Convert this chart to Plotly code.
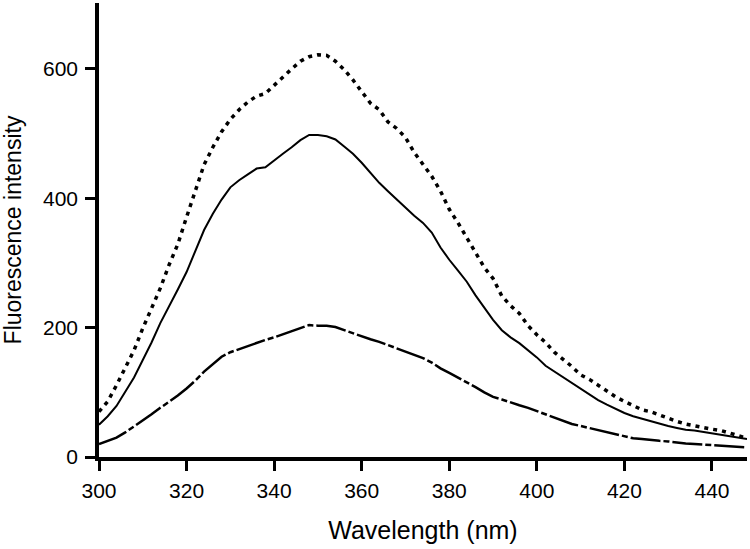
import plotly.graph_objects as go

# Wavelength grid (nm)
wavelength = [300, 302, 304, 306, 308, 310, 312, 314, 316, 318, 320, 322, 324, 326, 328,
              330, 332, 334, 336, 338, 340, 342, 344, 346, 348, 350, 352, 354, 356, 358,
              360, 362, 364, 366, 368, 370, 372, 374, 376, 378, 380, 382, 384, 386, 388,
              390, 392, 394, 396, 398, 400, 402, 404, 406, 408, 410, 412, 414, 416, 418,
              420, 422, 424, 426, 428, 430, 432, 434, 436, 438, 440, 442, 444, 446, 448]

# Dotted series (top)
dotted_vals = [70, 86, 111, 139, 165, 199, 230, 261, 297, 329, 371, 411, 452, 479, 503,
               522, 537, 549, 558, 562, 575, 587, 600, 612, 619, 622, 621, 612, 599, 583,
               565, 547, 537, 518, 508, 494, 471, 452, 434, 411, 383, 362, 339, 316, 293,
               276, 249, 234, 222, 203, 189, 177, 162, 151, 140, 127, 120, 111, 102, 93,
               86, 79, 73, 70, 65, 59, 55, 51, 48, 46, 43, 41, 37, 33, 29]

# Solid series (middle)
solid_vals = [50, 63, 79, 101, 123, 150, 177, 207, 232, 259, 286, 318, 351, 376, 398,
              417, 428, 437, 446, 448, 459, 469, 479, 490, 498, 498, 496, 491, 480, 469,
              455, 440, 424, 411, 398, 386, 373, 362, 347, 324, 305, 288, 271, 250, 230,
              212, 196, 185, 176, 165, 154, 141, 132, 124, 114, 106, 96, 88, 81, 74,
              68, 63, 59, 56, 52, 48, 45, 42, 41, 39, 37, 34, 32, 30, 28]

# Dash-dot series (bottom)
dashed_vals = [20, 25, 30, 38, 47, 56, 66, 76, 85, 95, 106, 118, 132, 144, 155,
               162, 167, 172, 176, 181, 185, 190, 195, 199, 204, 203, 203, 201, 196, 191,
               187, 182, 178, 173, 169, 164, 159, 153, 146, 137, 130, 123, 116, 108, 100,
               93, 89, 84, 80, 76, 71, 66, 60, 55, 51, 48, 45, 42, 39, 36,
               32, 29, 28, 26, 25, 24, 22, 21, 20, 19, 18, 17, 17, 16, 15]

x_ticks = [300, 320, 340, 360, 380, 400, 420, 440]
y_ticks = [0, 200, 400, 600]

FONT = "Liberation Sans, Arial, Helvetica, sans-serif"

fig = go.Figure()
fig.add_trace(go.Scatter(x=wavelength, y=dotted_vals, mode="lines",
                         line=dict(color="black", width=3.5, dash="4px,5px"),
                         showlegend=False, hoverinfo="skip"))
fig.add_trace(go.Scatter(x=wavelength, y=solid_vals, mode="lines",
                         line=dict(color="black", width=2),
                         showlegend=False, hoverinfo="skip"))
fig.add_trace(go.Scatter(x=wavelength, y=dashed_vals, mode="lines",
                         line=dict(color="black", width=2.5, dash="30px,3px,6px,3px"),
                         showlegend=False, hoverinfo="skip"))

axis_common = dict(
    showline=True, linecolor="black", linewidth=3.5,
    ticks="outside", ticklen=10, tickwidth=3, tickcolor="black",
    showgrid=False, zeroline=False, mirror=False, automargin=False,
    tickfont=dict(family=FONT, size=21, color="black"),
)

fig.update_layout(
    width=750, height=549,
    margin=dict(l=99, r=3, t=3, b=92),
    paper_bgcolor="white", plot_bgcolor="white",
    font=dict(family=FONT, color="black"),
    xaxis=dict(range=[300, 448], tickvals=x_ticks, ticklabelstandoff=2,
               title=dict(text="Wavelength (nm)", font=dict(family=FONT, size=25), standoff=22),
               **axis_common),
    yaxis=dict(range=[0, 702], tickvals=y_ticks, ticklabelstandoff=3,
               title=dict(text="Fluorescence intensity", font=dict(family=FONT, size=23), standoff=18),
               **axis_common),
)

fig.write_html("out.html",
               config={"displayModeBar": False},
               post_script="document.body.style.margin='0';document.body.style.overflow='hidden';")
